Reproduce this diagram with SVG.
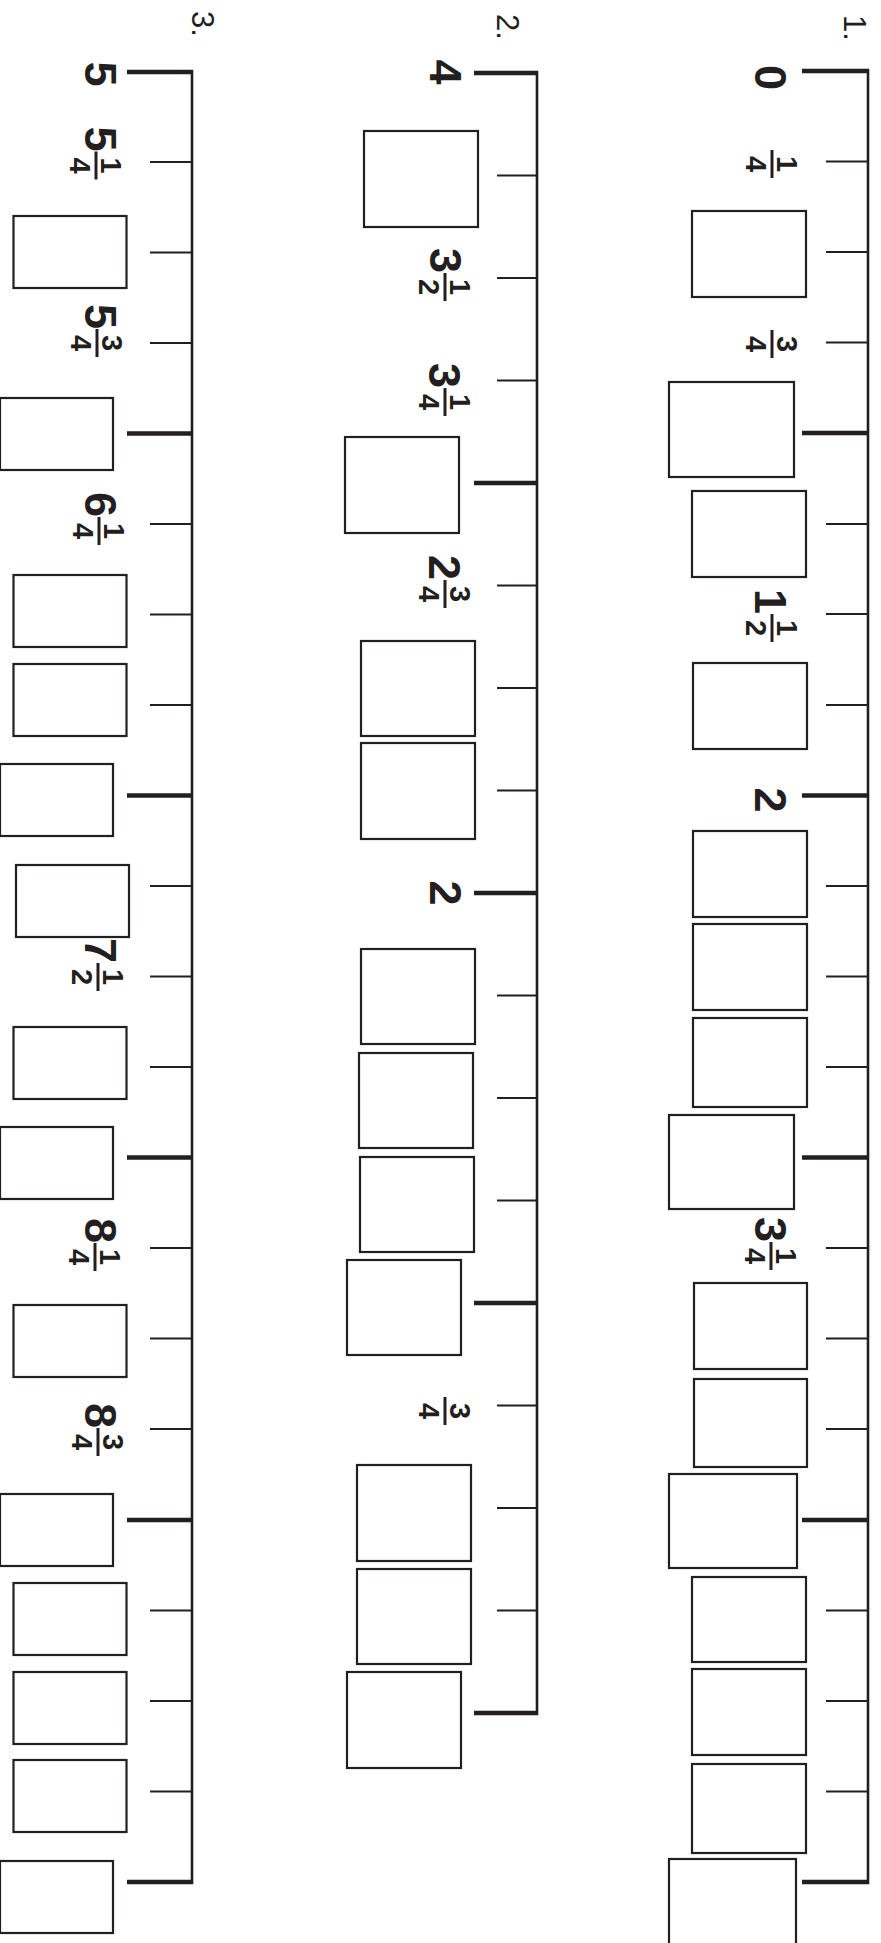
<svg xmlns="http://www.w3.org/2000/svg" width="881" height="1943" viewBox="0 0 881 1943">
<style>
.ax{stroke:#231f20;stroke-width:2.6;fill:none}
.mj{stroke:#231f20;stroke-width:4.4}
.mn{stroke:#231f20;stroke-width:2}
.bx{fill:#fff;stroke:#231f20;stroke-width:2.2}
.fb{stroke:#231f20;stroke-width:3}
.w{font-family:"Liberation Sans",Arial,sans-serif;font-weight:bold;font-size:45px;fill:#231f20;text-anchor:end}
.c{font-family:"Liberation Sans",Arial,sans-serif;font-weight:bold;font-size:45px;fill:#231f20;text-anchor:middle}
.n{font-family:"Liberation Sans",Arial,sans-serif;font-weight:bold;font-size:29px;fill:#231f20;text-anchor:middle}
.q{font-family:"Liberation Sans",Arial,sans-serif;font-size:31px;fill:#231f20}
</style>
<rect width="881" height="1943" fill="#fff"/>

<!-- ===== Number line 1 ===== -->
<g id="line1">
  <g id="line1-axis">
    <line class="ax" x1="868" y1="69" x2="868" y2="1884"/>
    <line class="mj" x1="802" y1="71" x2="869" y2="71"/>
    <line class="mn" x1="826" y1="161.5" x2="868" y2="161.5"/>
    <line class="mn" x1="826" y1="252" x2="868" y2="252"/>
    <line class="mn" x1="826" y1="342.5" x2="868" y2="342.5"/>
    <line class="mj" x1="802" y1="433" x2="868" y2="433"/>
    <line class="mn" x1="826" y1="524" x2="868" y2="524"/>
    <line class="mn" x1="826" y1="614" x2="868" y2="614"/>
    <line class="mn" x1="826" y1="705" x2="868" y2="705"/>
    <line class="mj" x1="802" y1="795.5" x2="868" y2="795.5"/>
    <line class="mn" x1="826" y1="886" x2="868" y2="886"/>
    <line class="mn" x1="826" y1="976.5" x2="868" y2="976.5"/>
    <line class="mn" x1="826" y1="1067" x2="868" y2="1067"/>
    <line class="mj" x1="802" y1="1157.5" x2="868" y2="1157.5"/>
    <line class="mn" x1="826" y1="1248" x2="868" y2="1248"/>
    <line class="mn" x1="826" y1="1338.5" x2="868" y2="1338.5"/>
    <line class="mn" x1="826" y1="1429" x2="868" y2="1429"/>
    <line class="mj" x1="802" y1="1520" x2="868" y2="1520"/>
    <line class="mn" x1="826" y1="1610.5" x2="868" y2="1610.5"/>
    <line class="mn" x1="826" y1="1701" x2="868" y2="1701"/>
    <line class="mn" x1="826" y1="1791.5" x2="868" y2="1791.5"/>
    <line class="mj" x1="802" y1="1882" x2="869" y2="1882"/>
  </g>
  <g id="line1-labels">
    <g id="q1" transform="translate(844,15) rotate(90)"><text class="q">1.</text></g>
    <g id="l1-0" transform="translate(755,77.5) rotate(90)"><text class="c">0</text></g>
    <g id="l1-q" transform="translate(772,164) rotate(90)"><line class="fb" x1="-14" x2="14" y1="0" y2="0"/><text class="n" y="-5">1</text><text class="n" y="26">4</text></g>
    <g id="l1-3q" transform="translate(772,344) rotate(90)"><line class="fb" x1="-14" x2="14" y1="0" y2="0"/><text class="n" y="-5">3</text><text class="n" y="26">4</text></g>
    <g id="l1-1h" transform="translate(772,628) rotate(90)"><text class="w" x="-14" y="17">1</text><line class="fb" x1="-14" x2="14" y1="0" y2="0"/><text class="n" y="-5">1</text><text class="n" y="26">2</text></g>
    <g id="l1-2" transform="translate(755,800) rotate(90)"><text class="c">2</text></g>
    <g id="l1-3q1" transform="translate(771,1256) rotate(90)"><text class="w" x="-14" y="16">3</text><line class="fb" x1="-14" x2="14" y1="0" y2="0"/><text class="n" y="-5">1</text><text class="n" y="26">4</text></g>
  </g>
  <g id="line1-boxes">
    <rect id="b1-1" class="bx" x="692" y="211" width="114" height="86"/>
    <rect id="b1-2" class="bx" x="669" y="382" width="125" height="95"/>
    <rect id="b1-3" class="bx" x="692" y="491" width="114" height="86"/>
    <rect id="b1-4" class="bx" x="693" y="663" width="114" height="86"/>
    <rect id="b1-5" class="bx" x="693" y="831" width="114" height="86"/>
    <rect id="b1-6" class="bx" x="693" y="924" width="114" height="86"/>
    <rect id="b1-7" class="bx" x="693" y="1018" width="114" height="89"/>
    <rect id="b1-8" class="bx" x="669" y="1115" width="125" height="94"/>
    <rect id="b1-9" class="bx" x="694" y="1283" width="113" height="86"/>
    <rect id="b1-10" class="bx" x="694" y="1379" width="113" height="88"/>
    <rect id="b1-11" class="bx" x="669" y="1474" width="128" height="94"/>
    <rect id="b1-12" class="bx" x="692" y="1577" width="114" height="85"/>
    <rect id="b1-13" class="bx" x="692" y="1669" width="114" height="86"/>
    <rect id="b1-14" class="bx" x="692" y="1764" width="114" height="89"/>
    <rect id="b1-15" class="bx" x="669" y="1859" width="127" height="95"/>
  </g>
</g>

<!-- ===== Number line 2 ===== -->
<g id="line2">
  <g id="line2-axis">
    <line class="ax" x1="537" y1="71" x2="537" y2="1715"/>
    <line class="mj" x1="474" y1="73" x2="538" y2="73"/>
    <line class="mn" x1="497" y1="175.5" x2="537" y2="175.5"/>
    <line class="mn" x1="497" y1="278" x2="537" y2="278"/>
    <line class="mn" x1="497" y1="380.5" x2="537" y2="380.5"/>
    <line class="mj" x1="474" y1="483" x2="537" y2="483"/>
    <line class="mn" x1="497" y1="585.5" x2="537" y2="585.5"/>
    <line class="mn" x1="497" y1="688" x2="537" y2="688"/>
    <line class="mn" x1="497" y1="790.5" x2="537" y2="790.5"/>
    <line class="mj" x1="474" y1="893" x2="537" y2="893"/>
    <line class="mn" x1="497" y1="995.5" x2="537" y2="995.5"/>
    <line class="mn" x1="497" y1="1098" x2="537" y2="1098"/>
    <line class="mn" x1="497" y1="1200.5" x2="537" y2="1200.5"/>
    <line class="mj" x1="474" y1="1303" x2="537" y2="1303"/>
    <line class="mn" x1="497" y1="1405.5" x2="537" y2="1405.5"/>
    <line class="mn" x1="497" y1="1508" x2="537" y2="1508"/>
    <line class="mn" x1="497" y1="1610.5" x2="537" y2="1610.5"/>
    <line class="mj" x1="474" y1="1713" x2="538" y2="1713"/>
  </g>
  <g id="line2-labels">
    <g id="q2" transform="translate(497,14) rotate(90)"><text class="q">2.</text></g>
    <g id="l2-4" transform="translate(430,72) rotate(90)"><text class="c">4</text></g>
    <g id="l2-3h" transform="translate(445,287) rotate(90)"><text class="w" x="-14" y="15">3</text><line class="fb" x1="-14" x2="14" y1="0" y2="0"/><text class="n" y="-5">1</text><text class="n" y="26">2</text></g>
    <g id="l2-3q" transform="translate(445,402) rotate(90)"><text class="w" x="-14" y="16">3</text><line class="fb" x1="-14" x2="14" y1="0" y2="0"/><text class="n" y="-5">1</text><text class="n" y="26">4</text></g>
    <g id="l2-2q3" transform="translate(445,594) rotate(90)"><text class="w" x="-14" y="16">2</text><line class="fb" x1="-14" x2="14" y1="0" y2="0"/><text class="n" y="-5">3</text><text class="n" y="26">4</text></g>
    <g id="l2-2" transform="translate(430,893) rotate(90)"><text class="c">2</text></g>
    <g id="l2-3q4" transform="translate(445,1411) rotate(90)"><line class="fb" x1="-14" x2="14" y1="0" y2="0"/><text class="n" y="-5">3</text><text class="n" y="26">4</text></g>
  </g>
  <g id="line2-boxes">
    <rect id="b2-1" class="bx" x="364" y="131" width="114" height="96"/>
    <rect id="b2-2" class="bx" x="345" y="437" width="114" height="96"/>
    <rect id="b2-3" class="bx" x="361" y="641" width="114" height="95"/>
    <rect id="b2-4" class="bx" x="361" y="743" width="114" height="96"/>
    <rect id="b2-5" class="bx" x="361" y="949" width="114" height="95"/>
    <rect id="b2-6" class="bx" x="359" y="1053" width="114" height="95"/>
    <rect id="b2-7" class="bx" x="360" y="1157" width="114" height="95"/>
    <rect id="b2-8" class="bx" x="347" y="1260" width="114" height="95"/>
    <rect id="b2-9" class="bx" x="357" y="1465" width="114" height="96"/>
    <rect id="b2-10" class="bx" x="357" y="1569" width="114" height="95"/>
    <rect id="b2-11" class="bx" x="347" y="1672" width="114" height="96"/>
  </g>
</g>

<!-- ===== Number line 3 ===== -->
<g id="line3">
  <g id="line3-axis">
    <line class="ax" x1="192" y1="70" x2="192" y2="1884"/>
    <line class="mj" x1="127" y1="72" x2="193" y2="72"/>
    <line class="mn" x1="150" y1="162" x2="192" y2="162"/>
    <line class="mn" x1="150" y1="252.5" x2="192" y2="252.5"/>
    <line class="mn" x1="150" y1="343" x2="192" y2="343"/>
    <line class="mj" x1="127" y1="433.5" x2="192" y2="433.5"/>
    <line class="mn" x1="150" y1="524" x2="192" y2="524"/>
    <line class="mn" x1="150" y1="614.5" x2="192" y2="614.5"/>
    <line class="mn" x1="150" y1="705" x2="192" y2="705"/>
    <line class="mj" x1="127" y1="795.5" x2="192" y2="795.5"/>
    <line class="mn" x1="150" y1="886" x2="192" y2="886"/>
    <line class="mn" x1="150" y1="976.5" x2="192" y2="976.5"/>
    <line class="mn" x1="150" y1="1067" x2="192" y2="1067"/>
    <line class="mj" x1="127" y1="1157.5" x2="192" y2="1157.5"/>
    <line class="mn" x1="150" y1="1248" x2="192" y2="1248"/>
    <line class="mn" x1="150" y1="1338.5" x2="192" y2="1338.5"/>
    <line class="mn" x1="150" y1="1429" x2="192" y2="1429"/>
    <line class="mj" x1="127" y1="1520" x2="192" y2="1520"/>
    <line class="mn" x1="150" y1="1610.5" x2="192" y2="1610.5"/>
    <line class="mn" x1="150" y1="1701" x2="192" y2="1701"/>
    <line class="mn" x1="150" y1="1791.5" x2="192" y2="1791.5"/>
    <line class="mj" x1="127" y1="1882" x2="193" y2="1882"/>
  </g>
  <g id="line3-labels">
    <g id="q3" transform="translate(192,11) rotate(90)"><text class="q">3.</text></g>
    <g id="l3-5" transform="translate(85,74) rotate(90)"><text class="c">5</text></g>
    <g id="l3-5q1" transform="translate(96,165.5) rotate(90)"><text class="w" x="-14" y="11">5</text><line class="fb" x1="-14" x2="14" y1="0" y2="0"/><text class="n" y="-5">1</text><text class="n" y="26">4</text></g>
    <g id="l3-5q3" transform="translate(97,343) rotate(90)"><text class="w" x="-14" y="12">5</text><line class="fb" x1="-14" x2="14" y1="0" y2="0"/><text class="n" y="-5">3</text><text class="n" y="26">4</text></g>
    <g id="l3-6q1" transform="translate(99,531) rotate(90)"><text class="w" x="-14" y="14">6</text><line class="fb" x1="-14" x2="14" y1="0" y2="0"/><text class="n" y="-5">1</text><text class="n" y="26">4</text></g>
    <g id="l3-7h" transform="translate(98,977) rotate(90)"><text class="w" x="-14" y="13">7</text><line class="fb" x1="-14" x2="14" y1="0" y2="0"/><text class="n" y="-5">1</text><text class="n" y="26">2</text></g>
    <g id="l3-8q1" transform="translate(95,1257) rotate(90)"><text class="w" x="-14" y="10">8</text><line class="fb" x1="-14" x2="14" y1="0" y2="0"/><text class="n" y="-5">1</text><text class="n" y="26">4</text></g>
    <g id="l3-8q3" transform="translate(98,1442) rotate(90)"><text class="w" x="-14" y="13">8</text><line class="fb" x1="-14" x2="14" y1="0" y2="0"/><text class="n" y="-5">3</text><text class="n" y="26">4</text></g>
  </g>
  <g id="line3-boxes">
    <rect id="b3-1" class="bx" x="13.5" y="216" width="113" height="72"/>
    <rect id="b3-2" class="bx" x="0" y="398" width="113" height="72"/>
    <rect id="b3-3" class="bx" x="13.5" y="575" width="113" height="72"/>
    <rect id="b3-4" class="bx" x="13.5" y="664" width="113" height="72"/>
    <rect id="b3-5" class="bx" x="0" y="764" width="113" height="72"/>
    <rect id="b3-6" class="bx" x="16" y="865" width="113" height="72"/>
    <rect id="b3-7" class="bx" x="13.5" y="1027" width="113" height="72"/>
    <rect id="b3-8" class="bx" x="0" y="1127" width="113" height="72"/>
    <rect id="b3-9" class="bx" x="13.5" y="1305" width="113" height="72"/>
    <rect id="b3-10" class="bx" x="0" y="1494" width="113" height="72"/>
    <rect id="b3-11" class="bx" x="13.5" y="1583" width="113" height="72"/>
    <rect id="b3-12" class="bx" x="13.5" y="1672" width="113" height="72"/>
    <rect id="b3-13" class="bx" x="13.5" y="1760" width="113" height="72"/>
    <rect id="b3-14" class="bx" x="0" y="1861" width="113" height="72"/>
  </g>
</g>
</svg>
